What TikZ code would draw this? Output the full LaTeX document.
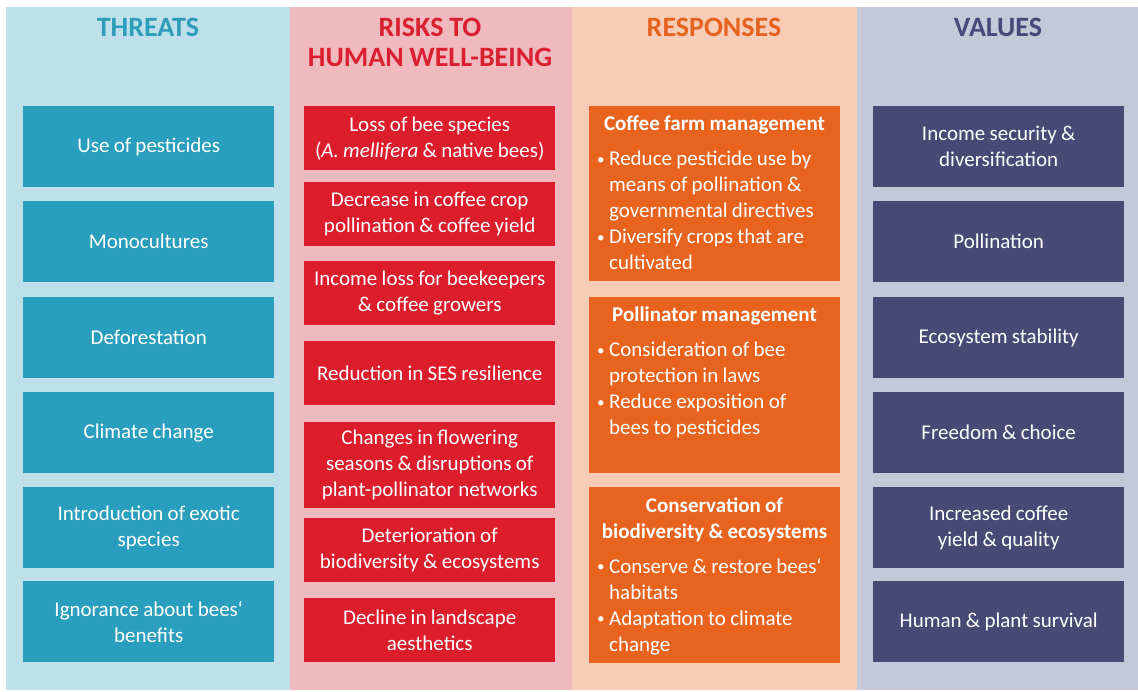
\documentclass[tikz,border=0pt]{standalone}
\usepackage{fontspec}
\setmainfont{Carlito}[WordSpace=0.9]
\definecolor{thrBg}{HTML}{BEE0EA}
\definecolor{thrBox}{HTML}{2A9FBD}
\definecolor{thrHead}{HTML}{2E9DB9}
\definecolor{riskBg}{HTML}{F0B9BE}
\definecolor{riskBox}{HTML}{DC1D2B}
\definecolor{riskHead}{HTML}{D91F30}
\definecolor{respBg}{HTML}{F8CDB7}
\definecolor{respBox}{HTML}{E8641E}
\definecolor{respHead}{HTML}{E5631F}
\definecolor{valBg}{HTML}{C4C8D9}
\definecolor{valBox}{HTML}{464A74}
\definecolor{valHead}{HTML}{474A78}
\newcommand{\bul}{\makebox[12pt][l]{\raisebox{1.5pt}{\fontsize{15}{15}\selectfont •}}}
\begin{document}
\begin{tikzpicture}[x=1pt,y=-1pt,
  panel/.style={fill=#1, draw=none},
  head/.style={text=#1, font=\fontsize{28}{30}\selectfont\bfseries, anchor=base, inner sep=0pt},
  cell/.style={fill=#1, draw=none, text=white, align=flush center, inner sep=0pt,
    anchor=north west, minimum width=251pt, text width=248pt,
    font=\fontsize{21}{26}\selectfont},
  tcell/.style={cell=thrBox, minimum height=81pt},
  vcell/.style={cell=valBox, minimum height=81pt},
  rcell/.style={cell=riskBox, minimum height=#1},
  pcell/.style={cell=respBox, minimum height=#1},
  ptitle/.style={text=white, font=\fontsize{21}{26}\selectfont\bfseries, anchor=base, inner sep=0pt, align=flush center},
  plist/.style={text=white, font=\fontsize{21}{26}\selectfont, anchor=base west, inner sep=0pt}
]
\useasboundingbox (0,0) rectangle (1138,692);
\fill[white] (0,0) rectangle (1138,692);

% column backgrounds
\fill[panel=thrBg]  (6,7) rectangle (290,690);
\fill[panel=riskBg] (290,7) rectangle (572,690);
\fill[panel=respBg] (572,7) rectangle (857,690);
\fill[panel=valBg]  (857,7) rectangle (1138,690);

% column headings
\node[head=thrHead]  (hThr)  at (148,37) {THREATS};
\node[head=riskHead] (hRisk1) at (430,37) {RISKS TO};
\node[head=riskHead] (hRisk2) at (430,67) {HUMAN WELL-BEING};
\node[head=respHead] (hResp) at (714,37) {RESPONSES};
\node[head=valHead]  (hVal)  at (998,37) {VALUES};

% threats
\node[tcell] (t1) at (23,106) {Use of pesticides};
\node[tcell] (t2) at (23,201) {Monocultures};
\node[tcell] (t3) at (23,297) {Deforestation};
\node[tcell] (t4) at (23,392) {Climate change};
\node[tcell] (t5) at (23,487) {Introduction of exotic\\species};
\node[tcell] (t6) at (23,581) {Ignorance about bees`\\benefits};

% risks to human well-being
\node[rcell=64pt] (r1) at (304,106) {Loss of bee species\\(\textit{A. mellifera} \& native bees)};
\node[rcell=64pt] (r2) at (304,182) {Decrease in coffee crop\\pollination \& coffee yield};
\node[rcell=64pt] (r3) at (304,261) {Income loss for beekeepers\\\& coffee growers};
\node[rcell=64pt] (r4) at (304,341) {Reduction in SES resilience};
\node[rcell=86pt] (r5) at (304,422) {Changes in flowering\\seasons \& disruptions of\\plant-pollinator networks};
\node[rcell=64pt] (r6) at (304,518) {Deterioration of\\biodiversity \& ecosystems};
\node[rcell=64pt] (r7) at (304,598) {Decline in landscape\\aesthetics};

% responses
\node[pcell=175pt] (p1) at (589,106) {};
\node[ptitle] (p1t) at (714.5,131) {Coffee farm management};
\node[plist] (p1l) at (597,166) {\begin{tabular}[t]{@{}l@{}l@{}}
  \bul & Reduce pesticide use by\\
   & means of pollination \&\\
   & governmental directives\\
  \bul & Diversify crops that are\\
   & cultivated
\end{tabular}};

\node[pcell=176pt] (p2) at (589,297) {};
\node[ptitle] (p2t) at (714.5,322) {Pollinator management};
\node[plist] (p2l) at (597,357) {\begin{tabular}[t]{@{}l@{}l@{}}
  \bul & Consideration of bee\\
   & protection in laws\\
  \bul & Reduce exposition of\\
   & bees to pesticides
\end{tabular}};

\node[pcell=176pt] (p3) at (589,487) {};
\node[ptitle] (p3t) at (714.5,538) {Conservation of\\biodiversity \& ecosystems};
\node[plist] (p3l) at (597,573) {\begin{tabular}[t]{@{}l@{}l@{}}
  \bul & Conserve \& restore bees`\\
   & habitats\\
  \bul & Adaptation to climate\\
   & change
\end{tabular}};

% values
\node[vcell] (v1) at (873,106) {Income security \&\\diversification};
\node[vcell] (v2) at (873,201) {Pollination};
\node[vcell] (v3) at (873,297) {Ecosystem stability};
\node[vcell] (v4) at (873,392) {Freedom \& choice};
\node[vcell] (v5) at (873,487) {Increased coffee\\yield \& quality};
\node[vcell] (v6) at (873,581) {Human \& plant survival};
\end{tikzpicture}
\end{document}
